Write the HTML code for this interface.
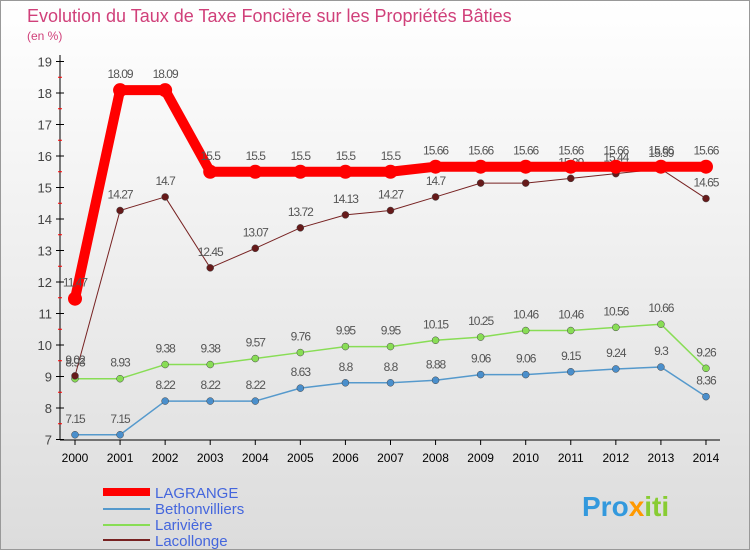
<!DOCTYPE html>
<html><head><meta charset="utf-8"><style>
body{margin:0;width:750px;height:550px;overflow:hidden;font-family:"Liberation Sans",sans-serif}
</style></head><body>
<svg id="chart" width="750" height="550" xmlns="http://www.w3.org/2000/svg">
<defs><linearGradient id="bg" x1="0" y1="0" x2="0" y2="1"><stop offset="0" stop-color="#ffffff"/><stop offset="1" stop-color="#dcdcdc"/></linearGradient></defs>
<rect x="0.5" y="0.5" width="749" height="549" fill="url(#bg)" stroke="#999"/>
<text x="27" y="22" font-size="18" fill="#d0407a">Evolution du Taux de Taxe Foncière sur les Propriétés Bâties</text>
<text x="27" y="40" font-size="12" fill="#d0407a">(en %)</text>
<g id="axes"></g><g id="series"></g>
<g font-size="15" fill="#4466dd">
<line x1="103" y1="492" x2="150" y2="492" stroke="#ff0000" stroke-width="8"/><text x="155" y="498">LAGRANGE</text>
<line x1="103" y1="509" x2="150" y2="509" stroke="#5599cc" stroke-width="2"/><text x="155" y="514">Bethonvilliers</text>
<line x1="103" y1="525" x2="150" y2="525" stroke="#88dd55" stroke-width="2"/><text x="155" y="530">Larivière</text>
<line x1="103" y1="540" x2="150" y2="540" stroke="#772222" stroke-width="2"/><text x="155" y="546">Lacollonge</text>
</g>
<text x="582" y="516" font-size="28" font-weight="bold" fill="#3399dd">Pro<tspan fill="#ff9900">x</tspan><tspan fill="#88cc33">iti</tspan></text>
</svg>
<script>
const years=[2000,2001,2002,2003,2004,2005,2006,2007,2008,2009,2010,2011,2012,2013,2014];
const lagrange=[11.47,18.09,18.09,15.5,15.5,15.5,15.5,15.5,15.66,15.66,15.66,15.66,15.66,15.66,15.66];
const bethon=[7.15,7.15,8.22,8.22,8.22,8.63,8.8,8.8,8.88,9.06,9.06,9.15,9.24,9.3,8.36];
const lariv=[8.93,8.93,9.38,9.38,9.57,9.76,9.95,9.95,10.15,10.25,10.46,10.46,10.56,10.66,9.26];
const lacol=[9.02,14.27,14.7,12.45,13.07,13.72,14.13,14.27,14.7,15.14,15.14,15.29,15.44,15.59,14.65];
const yTicks=[7,8,9,10,11,12,13,14,15,16,17,18,19];
const NS='http://www.w3.org/2000/svg';
const X=i=>75+i*45.07, Y=v=>376.5-(v-9)*31.5;
function mk(t,a,p){const e=document.createElementNS(NS,t);for(const k in a)e.setAttribute(k,a[k]);p.appendChild(e);return e;}
const ax=document.getElementById('axes'), sg=document.getElementById('series');
const yAxis=mk('line',{x1:60,y1:55,x2:60,y2:440,stroke:'#000'},ax);


const xAxis=mk('line',{x1:60,y1:440,x2:720,y2:440,stroke:'#000'},ax);


yTicks.forEach(v=>{const y=Y(v);
mk('line',{x1:56,y1:y,x2:64,y2:y,stroke:'#000'},ax);
if(v<19)mk('line',{x1:58,y1:Y(v+0.5),x2:62,y2:Y(v+0.5),stroke:'#ff0000'},ax);
const t=mk('text',{x:52,y:y+5,'font-size':13,fill:'#444','text-anchor':'end'},ax);t.textContent=v;

});
years.forEach((yr,i)=>{const x=X(i);mk('line',{x1:x,y1:440,x2:x,y2:445,stroke:'#000'},ax);
const t=mk('text',{x:x,y:462,'font-size':12,fill:'#000','text-anchor':'middle'},ax);t.textContent=yr;

});
function series(d,col,w,r,name,dot){
const pl=mk('polyline',{points:d.map((v,i)=>X(i)+','+Y(v)).join(' '),fill:'none',stroke:col,'stroke-width':w,'stroke-linejoin':'round'},sg);


d.forEach((v,i)=>{const c=mk('circle',{cx:X(i),cy:Y(v),r:r,fill:dot,stroke:'#444','stroke-width':r>5?0:0.5},sg);


const t=mk('text',{x:X(i),y:Y(v)-12,'font-size':12,fill:'#555','text-anchor':'middle','letter-spacing':'-1'},sg);t.textContent=v;

});}
series(bethon,'#5599cc',1.5,3.5,'bethonvilliers','#4a8fcc');
series(lariv,'#88dd55',1.5,3.5,'lariviere','#88dd55');
series(lacol,'#772222',1,3.5,'lacollonge','#661a1a');
series(lagrange,'#ff0000',10,7,'lagrange','#ff0000');
</script>
</body></html>
